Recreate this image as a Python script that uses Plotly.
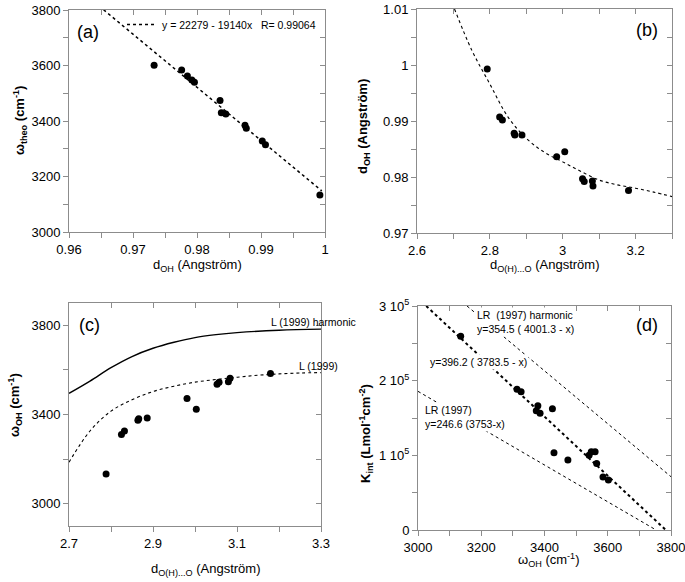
import plotly.graph_objects as go

# ---------------- data ----------------
# Panel (a): omega_theo vs d_OH
a_doh = [0.9733, 0.9776, 0.9785, 0.9792, 0.9796, 0.9836, 0.9838, 0.9845, 0.9875, 0.9877, 0.9902, 0.9907, 0.9992]
a_omega = [3601, 3584, 3562, 3548, 3540, 3474, 3430, 3425, 3385, 3374, 3328, 3314, 3133]
a_fit_x = [0.9654, 0.9995]
a_fit_y = [3801, 3148]
a_fit_label = "y = 22279 - 19140x   R= 0.99064"

# Panel (b): d_OH vs d_O(H)...O
b_doo = [2.7928, 2.8269, 2.8344, 2.8667, 2.8686, 2.8881, 2.9834, 3.0056, 3.0544, 3.0590, 3.0814, 3.0831, 3.1806]
b_doh = [0.9993, 0.9907, 0.9902, 0.9878, 0.9875, 0.9875, 0.9836, 0.9845, 0.9797, 0.9792, 0.9793, 0.9784, 0.9776]
b_curve_x = [2.703, 2.75, 2.8, 2.85, 2.9, 2.95, 3.0, 3.05, 3.1, 3.15, 3.2, 3.25, 3.3]
b_curve_y = [1.0100, 1.0027, 0.9966, 0.9907, 0.9869, 0.9844, 0.9827, 0.9810, 0.97945, 0.9786, 0.9780, 0.9773, 0.9765]

# Panel (c): omega_OH vs d_O(H)...O
c_doo = [2.7883, 2.8249, 2.8320, 2.8640, 2.8660, 2.8862, 2.9810, 3.0031, 3.0525, 3.0573, 3.0795, 3.0835, 3.1797]
c_omega = [3133, 3310, 3326, 3374, 3381, 3384, 3472, 3423, 3536, 3545, 3547, 3562, 3584]
c_harm_x = [2.7, 2.75, 2.8, 2.85, 2.9, 2.95, 3.0, 3.05, 3.1, 3.2, 3.3]
c_harm_y = [3495, 3550, 3610, 3660, 3697, 3724, 3745, 3758, 3767, 3778, 3783]
c_l99_x = [2.7, 2.75, 2.8, 2.85, 2.9, 2.95, 3.0, 3.05, 3.1, 3.15, 3.2, 3.25, 3.3]
c_l99_y = [3186, 3326, 3415, 3466, 3503, 3527, 3545, 3557, 3567, 3576, 3582, 3586, 3588]

# Panel (d): K_int vs omega_OH
d_omega = [3135, 3313, 3326, 3374, 3379, 3386, 3425, 3430, 3474, 3541, 3548, 3560, 3565, 3585, 3602]
d_k = [259500, 188400, 185200, 159600, 166300, 156500, 162300, 103300, 93750, 100000, 104700, 104900, 89000, 71000, 67000]
d_fit_x = [3026, 3783.5]
d_fit_y = [300000, 0]
d_harm_x = [3155, 3800]
d_harm_y = [300000, 71360]
d_lr_x = [3000, 3753]
d_lr_y = [185700, 0]
d_ytickvals = [0, 100000, 200000, 300000]
d_yticktext = ["0", "1 10<sup>5</sup>", "2 10<sup>5</sup>", "3 10<sup>5</sup>"]

# ---------------- layout helpers ----------------
W, H = 685, 582
FONT = "Liberation Sans, Arial, sans-serif"
AX = "#8c8c8c"


def px_x(p):
    return p / W


def px_y(p):
    return 1 - p / H


panels = {
    # id: (left, right, top, bottom) in pixels
    1: (69, 325, 10, 232),
    2: (417, 672, 9, 233),
    3: (69, 321, 303, 526),
    4: (418, 671, 306, 530),
}
ranges = {
    1: ([0.96, 1.0], [3000, 3800]),
    2: ([2.6, 3.3], [0.97, 1.01]),
    3: ([2.7, 3.3], [2900, 3900]),
    4: ([3000, 3800], [0, 300000]),
}
xt = {1: (0.96, 0.01, 0.005), 2: (2.6, 0.2, 0.1), 3: (2.7, 0.2, 0.1), 4: (3000, 200, 100)}
yt = {1: (3000, 200, 100), 2: (0.97, 0.01, 0.005), 3: (3000, 400, 200), 4: (0, 100000, 50000)}

fig = go.Figure()
layout = dict(
    width=W, height=H, margin=dict(l=0, r=0, t=0, b=0, autoexpand=False),
    paper_bgcolor="white", plot_bgcolor="white",
    font=dict(family=FONT, size=13, color="black"),
    showlegend=True,
)

for i, (l, r, t, b) in panels.items():
    xs = "" if i == 1 else str(i)
    xdom = [px_x(l), px_x(r)]
    ydom = [px_y(b), px_y(t)]
    xr, yr = ranges[i]
    x0, xd, xm = xt[i]
    y0, yd, ym = yt[i]
    base = dict(showgrid=False, zeroline=False, showline=True, linecolor=AX, linewidth=1,
                tickcolor=AX, ticklen=5, tickwidth=1, automargin=False,
                ticklabeloverflow="allow",
                tickfont=dict(family=FONT, size=13, color="black"))
    xa = dict(base, domain=xdom, range=xr, anchor="y" + xs, ticks="outside",
              tick0=x0, dtick=xd,
              minor=dict(ticks="outside", dtick=xm, tick0=x0, ticklen=5, tickcolor=AX, showgrid=False))
    ya = dict(base, domain=ydom, range=yr, anchor="x" + xs, ticks="outside",
              tick0=y0, dtick=yd,
              minor=dict(ticks="outside", dtick=ym, tick0=y0, ticklen=5, tickcolor=AX, showgrid=False))
    if i == 4:
        ya.update(tickmode="array", tickvals=d_ytickvals, ticktext=d_yticktext)
    layout["xaxis" + xs] = xa
    layout["yaxis" + xs] = ya
    # overlay axes for the top / right frame with inward ticks
    j = i + 4
    layout["xaxis%d" % j] = dict(base, range=xr, overlaying="x" + xs, anchor="y" + xs, side="top",
                                 ticks="inside", showticklabels=False, tick0=x0, dtick=xd,
                                 minor=dict(ticks="inside", dtick=xm, tick0=x0, ticklen=5, tickcolor=AX))
    layout["yaxis%d" % j] = dict(base, range=yr, overlaying="y" + xs, anchor="x" + xs, side="right",
                                 ticks="inside", showticklabels=False, tick0=y0, dtick=yd,
                                 minor=dict(ticks="inside", dtick=ym, tick0=y0, ticklen=5, tickcolor=AX))
    if i == 4:
        layout["yaxis%d" % j].update(tickmode="array", tickvals=d_ytickvals)
    fig.add_trace(go.Scatter(x=[], y=[], xaxis="x%d" % j, yaxis="y%d" % j,
                             showlegend=False, hoverinfo="skip"))

marker = dict(color="black", size=7)

# Panel (a)
fig.add_trace(go.Scatter(x=a_fit_x, y=a_fit_y, mode="lines", name=a_fit_label,
                         line=dict(color="black", width=1.5, dash="dot"),
                         xaxis="x", yaxis="y", showlegend=True))
fig.add_trace(go.Scatter(x=a_doh, y=a_omega, mode="markers", marker=marker,
                         xaxis="x", yaxis="y", showlegend=False))
# Panel (b)
fig.add_trace(go.Scatter(x=b_curve_x, y=b_curve_y, mode="lines", line_shape="spline",
                         line=dict(color="black", width=1.1, dash="dot"),
                         xaxis="x2", yaxis="y2", showlegend=False))
fig.add_trace(go.Scatter(x=b_doo, y=b_doh, mode="markers", marker=marker,
                         xaxis="x2", yaxis="y2", showlegend=False))
# Panel (c)
fig.add_trace(go.Scatter(x=c_harm_x, y=c_harm_y, mode="lines", line_shape="spline",
                         line=dict(color="black", width=1.4),
                         xaxis="x3", yaxis="y3", showlegend=False))
fig.add_trace(go.Scatter(x=c_l99_x, y=c_l99_y, mode="lines", line_shape="spline",
                         line=dict(color="black", width=1.1, dash="dot"),
                         xaxis="x3", yaxis="y3", showlegend=False))
fig.add_trace(go.Scatter(x=c_doo, y=c_omega, mode="markers", marker=marker,
                         xaxis="x3", yaxis="y3", showlegend=False))
# Panel (d)
fig.add_trace(go.Scatter(x=d_harm_x, y=d_harm_y, mode="lines",
                         line=dict(color="black", width=1, dash="dot"),
                         xaxis="x4", yaxis="y4", showlegend=False))
fig.add_trace(go.Scatter(x=d_lr_x, y=d_lr_y, mode="lines",
                         line=dict(color="black", width=1, dash="dot"),
                         xaxis="x4", yaxis="y4", showlegend=False))
fig.add_trace(go.Scatter(x=d_fit_x, y=d_fit_y, mode="lines",
                         line=dict(color="black", width=2, dash="dot"),
                         xaxis="x4", yaxis="y4", showlegend=False))
fig.add_trace(go.Scatter(x=d_omega, y=d_k, mode="markers", marker=marker,
                         xaxis="x4", yaxis="y4", showlegend=False))

layout["legend"] = dict(x=px_x(122), y=px_y(10), xanchor="left", yanchor="top",
                        bgcolor="rgba(0,0,0,0)", borderwidth=0,
                        font=dict(family=FONT, size=10.5, color="black"),
                        itemwidth=30, tracegroupgap=0)

ann = []


def paper_text(x, y, text, size=13, angle=0, bold=False, xanchor="center"):
    if bold:
        text = "<b>" + text + "</b>"
    ann.append(dict(x=px_x(x), y=px_y(y), xref="paper", yref="paper", text=text,
                    showarrow=False, textangle=angle, xanchor=xanchor, yanchor="middle",
                    font=dict(family=FONT, size=size, color="black")))


# panel labels
paper_text(88, 32, "(a)", size=18)
paper_text(647, 30, "(b)", size=18)
paper_text(89, 325, "(c)", size=18)
paper_text(647, 325, "(d)", size=18)

# axis titles
paper_text(197, 266, "d<sub>OH</sub> (Angström)")
paper_text(20, 121, "ω<sub>theo</sub> (cm<sup>-1</sup>)", angle=-90, bold=True)
paper_text(545, 266, "d<sub>O(H)...O</sub> (Angström)")
paper_text(363, 127, "d<sub>OH</sub> (Angström)", angle=-90, bold=True)
paper_text(206, 569, "d<sub>O(H)...O</sub> (Angström)")
paper_text(15, 405, "ω<sub>OH</sub> (cm<sup>-1</sup>)", angle=-90, bold=True)
paper_text(549, 560, "ω<sub>OH</sub> (cm<sup>-1</sup>)")
paper_text(366, 433, "K<sub>int</sub> (Lmol<sup>-1</sup>cm<sup>-2</sup>)", angle=-90, bold=True)

# curve labels in (c)
paper_text(269, 322, "L (1999) harmonic", size=10.5, xanchor="left")
paper_text(297, 366, "L (1999)", size=10.5, xanchor="left")


def boxed_text(x, y, text):
    ann.append(dict(x=px_x(x), y=px_y(y), xref="paper", yref="paper", text=text,
                    showarrow=False, xanchor="left", yanchor="middle", align="left",
                    bgcolor="white", borderpad=1,
                    font=dict(family=FONT, size=10.5, color="black")))


boxed_text(475, 322, "LR  (1997) harmonic<br>y=354.5 ( 4001.3 - x)")
boxed_text(428, 362, "y=396.2 ( 3783.5 - x)")
boxed_text(423, 417, "LR (1997)<br>y=246.6 (3753-x)")

layout["annotations"] = ann
fig.update_layout(**layout)
fig.write_html("out.html", config={"displayModeBar": False},
               post_script="document.body.style.margin='0px';")
